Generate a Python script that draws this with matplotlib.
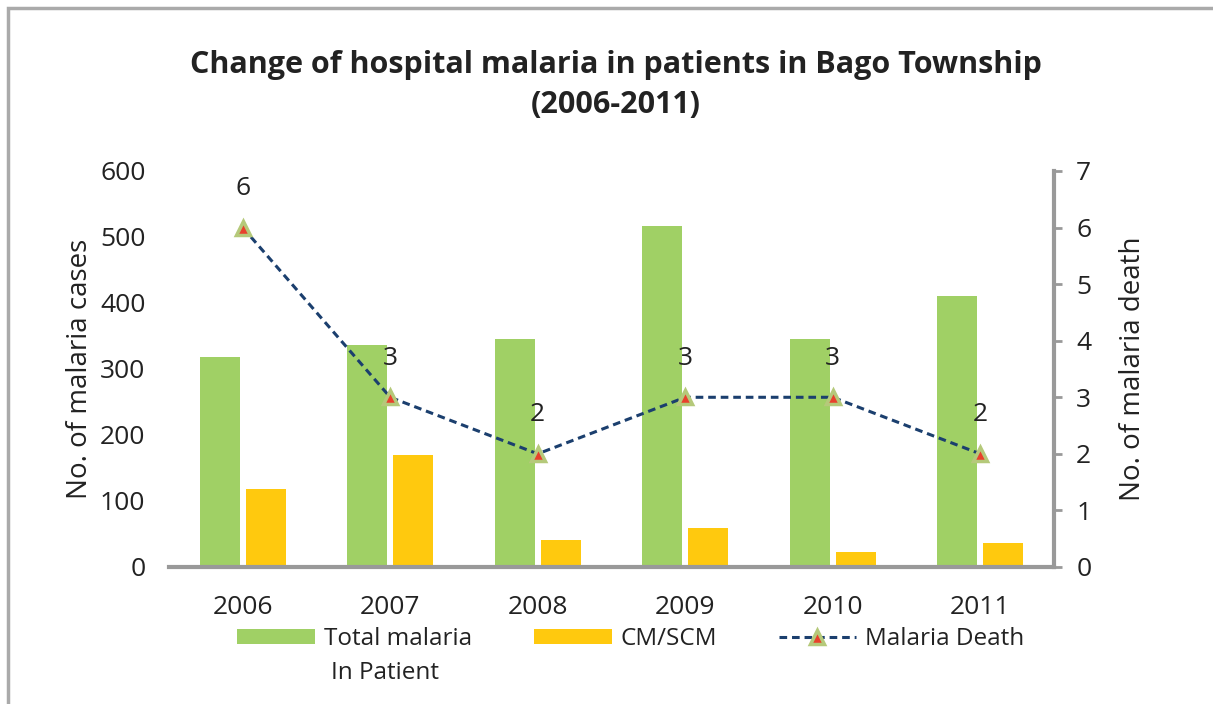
import matplotlib.pyplot as plt
import numpy as np
from matplotlib.lines import Line2D
from matplotlib.patches import Patch, Rectangle

years = ["2006", "2007", "2008", "2009", "2010", "2011"]
total_inpatient = [318, 336, 345, 517, 345, 411]
cm_scm = [118, 170, 41, 59, 23, 36]
deaths = [6, 3, 2, 3, 3, 2]

GREEN = "#A0D065"
YELLOW = "#FFC90E"
NAVY = "#1B3F6E"
GRAY = "#999999"
TXT = "#222222"

plt.rcParams["font.family"] = ["Open Sans", "DejaVu Sans"]

fig = plt.figure(figsize=(12.13, 7.04), dpi=100)
ax = fig.add_axes([169 / 1213, 1 - 567 / 704, (1054 - 169) / 1213, 396 / 704])

x = np.arange(len(years))
w = 0.27
ax.bar(x - 0.156, total_inpatient, w, color=GREEN)
ax.bar(x + 0.156, cm_scm, w, color=YELLOW)
ax.set_xlim(-0.5, len(years) - 0.5)
ax.set_ylim(0, 600)
ax.set_yticks(range(0, 601, 100))
ax.set_xticks(x)
ax.set_xticklabels(years)
ax.tick_params(axis="both", length=0, labelsize=19, colors=TXT)
ax.tick_params(axis="x", pad=20)
ax.tick_params(axis="y", pad=17)
for s in ["top", "left", "right"]:
    ax.spines[s].set_visible(False)
ax.spines["bottom"].set_color(GRAY)
ax.spines["bottom"].set_linewidth(3)
ax.set_ylabel("No. of malaria cases", fontsize=20, color=TXT, labelpad=4)

ax2 = ax.twinx()
ax2.plot(x, deaths, color=NAVY, ls=(0, (2.5, 1.6)), lw=2.2,
         marker="^", markersize=10, markerfacecolor="#E8412C",
         markeredgecolor="#B5C97A", markeredgewidth=2.5)
for xi, d in zip(x, deaths):
    ax2.annotate(str(d), (xi, d), xytext=(0, 28), textcoords="offset points",
                 ha="center", va="center", fontsize=19, color=TXT)
ax2.set_ylim(0, 7)
ax2.set_yticks(range(0, 8))
for s in ["top", "left", "bottom"]:
    ax2.spines[s].set_visible(False)
ax2.spines["right"].set_color(GRAY)
ax2.spines["right"].set_linewidth(3)
ax2.tick_params(axis="y", direction="out", length=6, width=2, color=GRAY,
                labelsize=19, labelcolor=TXT, pad=10)
ax2.set_ylabel("No. of malaria death", fontsize=20, color=TXT, labelpad=20)

fig.text(616 / 1213, 1 - 65 / 704, "Change of hospital malaria in patients in Bago Township",
         ha="center", va="center", fontsize=22, fontweight="bold", color=TXT)
fig.text(616 / 1213, 1 - 105 / 704, "(2006-2011)",
         ha="center", va="center", fontsize=22, fontweight="bold", color=TXT)

handles = [
    Patch(facecolor=GREEN),
    Patch(facecolor=YELLOW),
    Line2D([], [], color=NAVY, ls=(0, (2.5, 1.6)), lw=2.2, marker="^",
           markersize=10, markerfacecolor="#E8412C", markeredgecolor="#B5C97A",
           markeredgewidth=2.5),
]
labels = ["Total malaria", "CM/SCM", "Malaria Death"]
leg = fig.legend(handles, labels, loc="upper center", ncol=3, frameon=False,
                 bbox_to_anchor=(0.52, 1 - 610 / 704), fontsize=17.5,
                 handlelength=3.2, handleheight=0.55, columnspacing=2.55,
                 handletextpad=0.35, labelcolor=TXT, borderpad=0.2)

# second line of the first legend label sits under "Total malaria"
fig.canvas.draw()
bb = leg.get_texts()[0].get_window_extent()
fig.text(bb.x0 / 1213 + 0.006, (bb.y0 - 10) / 704, "In Patient", ha="left", va="top",
         fontsize=17.5, color=TXT)

fig.patches.append(Rectangle((8 / 1213, -0.1), 1.2, 1 - 8 / 704 + 0.1,
                             transform=fig.transFigure, fill=False,
                             edgecolor="#AAAAAA", lw=2.5))

fig.savefig("out.png", dpi=100)
